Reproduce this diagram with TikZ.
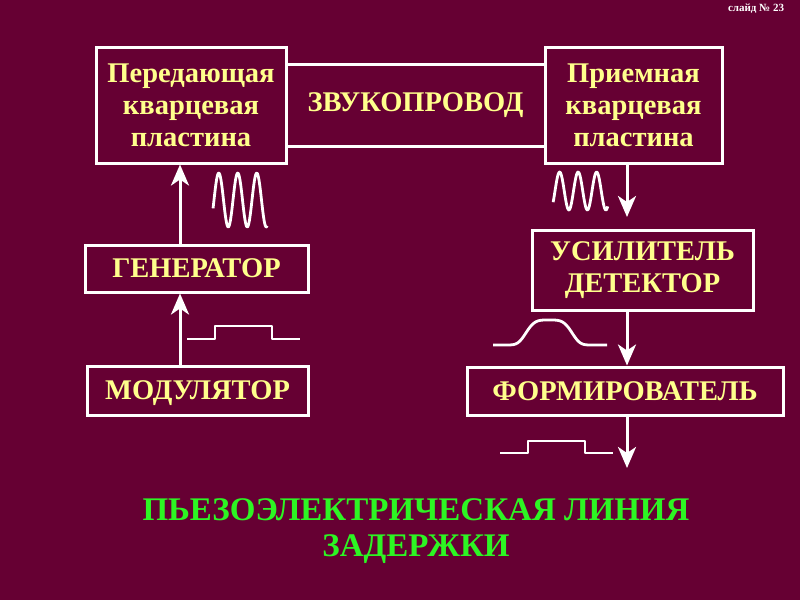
\documentclass[tikz,border=0pt]{standalone}
\usepackage{fontspec}
\setmainfont{Liberation Serif}
\usetikzlibrary{arrows.meta}
\definecolor{slidebg}{RGB}{102,0,51}
\definecolor{boxtext}{RGB}{255,255,140}
\definecolor{titlegreen}{RGB}{45,245,35}
\tikzset{
  blk/.style={draw=white, line width=3pt, fill=slidebg, text=boxtext, align=center,
    inner sep=0pt, font=\bfseries\fontsize{28.5}{32}\selectfont},
  arr/.style={draw=white, line width=3pt, -{Stealth[length=21pt,width=18pt,inset=6pt]}},
  sig/.style={draw=white, line width=2.8pt, line join=round}
}
\begin{document}
\begin{tikzpicture}[x=1pt,y=-1pt]
	\useasboundingbox (0,0) rectangle (800,600);
	\fill[slidebg] (0,0) rectangle (800,600);
	\node[text=white, font=\bfseries\fontsize{11}{12}\selectfont] (sl) at (756, 9) {слайд № 23};
	\node[blk, minimum width=259pt, minimum height=82pt] (duct) at (415.5, 105) {ЗВУКОПРОВОД};
	\node[blk, minimum width=190pt, minimum height=116pt] (tx) at (191, 105) {Передающая\\кварцевая\\пластина};
	\node[blk, minimum width=177pt, minimum height=116pt] (rx) at (633.5, 105) {Приемная\\кварцевая\\пластина};
	\node[blk, minimum width=223pt, minimum height=47pt, text depth=0pt] (gen) at (196.5, 268.5) {ГЕНЕРАТОР};
	\node[blk, minimum width=221pt, minimum height=49pt, text depth=0pt] (mod) at (197.5, 390.5) {МОДУЛЯТОР};
	\node[blk, minimum width=221pt, minimum height=80pt] (amp) at (642.5, 270) {УСИЛИТЕЛЬ\\ДЕТЕКТОР};
	\node[blk, minimum width=316pt, minimum height=48pt] (form) at (625, 391) {ФОРМИРОВАТЕЛЬ};
	\coordinate (a1) at (180, 0);
	\coordinate (a2) at (627, 0);
	\coordinate (t1) at (627, 217);
	\coordinate (t2) at (627, 468);
	 \draw[arr] (mod.north -| a1) -- (gen.south -| a1);
	 \draw[arr] (gen.north -| a1) -- (tx.south -| a1);
	 \draw[arr] (rx.south -| a2) -- (t1);
	 \draw[arr] (amp.south -| a2) -- (form.north -| a2);
	 \draw[arr] (form.south -| a2) -- (t2);
	% signals
	 \draw[sig] plot[domain=-0.05:2.8, samples=90, smooth] ({214+19*\x}, {200-27*sin(360*\x)});
	 \draw[sig] plot[domain=-0.1:2.85, samples=90, smooth] ({555+18.5*\x}, {191-19*sin(360*\x)});
	 \draw[sig] (187,339) -- (215,339) -- (215,326) -- (272,326) -- (272,339) -- (300,339);
	 \draw[sig] (500,453) -- (528,453) -- (528,441) -- (585,441) -- (585,453) -- (613,453);
	 \draw[sig] plot[domain=493:607, samples=80, smooth] (\x, {345-25*exp(-((\x-549)/25)^4)});
	\node[text=titlegreen, align=center, font=\bfseries\fontsize{33}{36}\selectfont] (title) at (416, 531) {ПЬЕЗОЭЛЕКТРИЧЕСКАЯ ЛИНИЯ\\ЗАДЕРЖКИ};
\end{tikzpicture}
\end{document}
